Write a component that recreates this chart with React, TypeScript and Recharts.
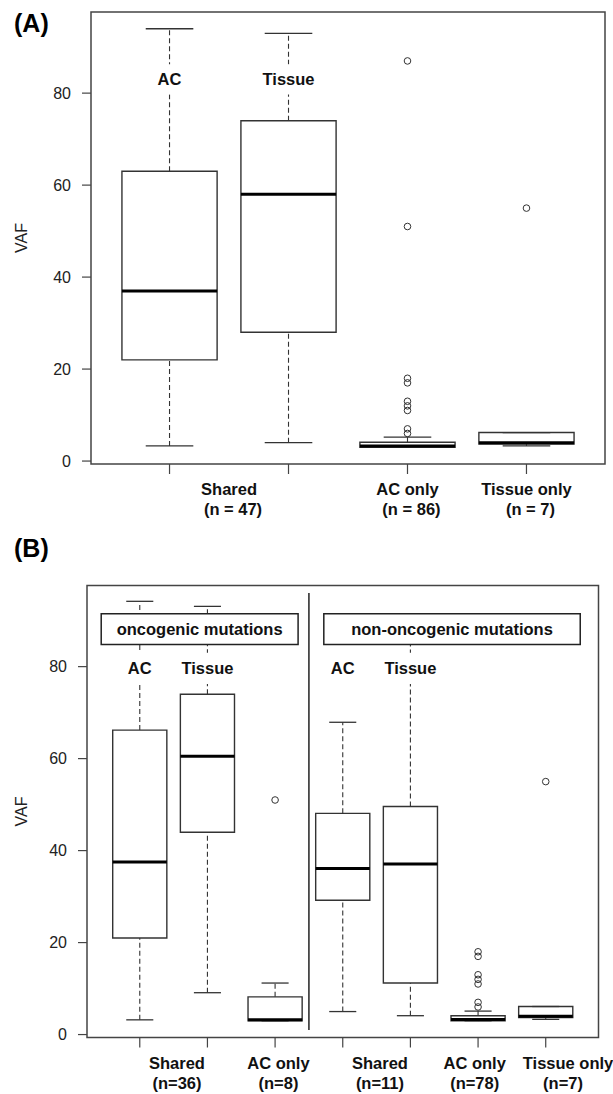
import React from 'react';
import { ComposedChart, XAxis, YAxis, Scatter, ReferenceArea, ReferenceLine } from 'recharts';

// shared y scale (R default: data range + 4%)
const yDomain: [number, number] = [-0.64, 97.64];
const yTicks = [0, 20, 40, 60, 80];

// panel A: Shared AC, Shared Tissue, AC only, Tissue only
const posA = [1, 2, 3, 4];
const minA = [3.3, 4, 3, 3.3];
const q1A = [22, 28, 3, 3.7];
const medA = [37, 58, 3.3, 4];
const q3A = [63, 74, 4.1, 6.2];
const maxA = [94, 93, 5.2, 6.2];
const acOnlyOutA = [87, 51, 18, 17, 13, 12, 11, 7, 6];
const tissueOnlyOutA = [55];
const groupPosA = [1.5, 3, 4];
const groupNameA = ['Shared', 'AC only', 'Tissue only'];
const groupNA = ['(n = 47)', '(n = 86)', '(n = 7)'];
const nShiftA = [4, 4, 4];
const sourcePosA = [1, 2];

// panel B: oncogenic (1-3) | non-oncogenic (4-7)
const posB = [1, 2, 3, 4, 5, 6, 7];
const minB = [3.2, 9.1, 3, 5, 4.1, 3, 3.3];
const q1B = [21, 44, 3, 29.2, 11.2, 3, 3.7];
const medB = [37.5, 60.5, 3.2, 36.1, 37.1, 3.3, 4];
const q3B = [66.2, 74, 8.2, 48.1, 49.6, 4.1, 6.1];
const maxB = [94.2, 93.1, 11.2, 67.9, 89, 5.1, 6.1];
const acOnlyOncOutB = [51];
const acOnlyNonOutB = [18, 17, 13, 12, 11, 7, 6];
const tissueOnlyOutB = [55];
const groupPosB = [1.55, 3.05, 4.55, 5.95, 7.33];
const groupNameB = ['Shared', 'AC only', 'Shared', 'AC only', 'Tissue only'];
const groupNB = ['(n=36)', '(n=8)', '(n=11)', '(n=78)', '(n=7)'];
const nShiftB = [0, 0, 0, 0, -5];
const sourcePosB = [1, 2, 4, 5];
const sourceNames = ['AC', 'Tissue'];
const legendNames = ['oncogenic mutations', 'non-oncogenic mutations'];
const legendFrom = [0.43, 3.72];
const legendTo = [3.34, 7.51];

const outliersA = [
  ...acOnlyOutA.map((y) => ({ x: 3, y })),
  ...tissueOnlyOutA.map((y) => ({ x: 4, y })),
];
const outliersB = [
  ...acOnlyOncOutB.map((y) => ({ x: 3, y })),
  ...acOnlyNonOutB.map((y) => ({ x: 6, y })),
  ...tissueOnlyOutB.map((y) => ({ x: 7, y })),
];
// anchors so the label axis has something attached to it
const anchorsA = groupPosA.map((x) => ({ x, y: 0 }));
const anchorsB = groupPosB.map((x) => ({ x, y: 0 }));

const LINE = '#333';
const FONT = '"Liberation Sans", Arial, sans-serif';

function boxes(pos: number[], min: number[], q1: number[], med: number[], q3: number[], max: number[], id: string) {
  const out: React.ReactNode[] = [];
  pos.forEach((p, i) => {
    out.push(
      <ReferenceLine key={`${id}uw${i}`} segment={[{ x: p, y: q3[i] }, { x: p, y: max[i] }]} stroke={LINE} strokeWidth={1.1} strokeDasharray="5 3" />,
      <ReferenceLine key={`${id}lw${i}`} segment={[{ x: p, y: min[i] }, { x: p, y: q1[i] }]} stroke={LINE} strokeWidth={1.1} strokeDasharray="5 3" />,
      <ReferenceLine key={`${id}uc${i}`} segment={[{ x: p - 0.2, y: max[i] }, { x: p + 0.2, y: max[i] }]} stroke={LINE} strokeWidth={1.3} />,
      <ReferenceLine key={`${id}lc${i}`} segment={[{ x: p - 0.2, y: min[i] }, { x: p + 0.2, y: min[i] }]} stroke={LINE} strokeWidth={1.3} />,
      <ReferenceArea key={`${id}bx${i}`} x1={p - 0.4} x2={p + 0.4} y1={q1[i]} y2={q3[i]} fill="#fff" fillOpacity={1} stroke={LINE} strokeWidth={1.4} />,
      <ReferenceLine key={`${id}md${i}`} segment={[{ x: p - 0.4, y: med[i] }, { x: p + 0.4, y: med[i] }]} stroke="#000" strokeWidth={3} />,
    );
  });
  return out;
}

const makeGroupTick = (positions: number[], names: string[], ns: string[], shift: number[]) => (props: any) => {
  const { x, y, payload } = props;
  const i = positions.indexOf(payload.value);
  return (
    <g>
      <text x={x} y={y + 21} textAnchor="middle" fontSize={16.5} fontWeight="bold" fill="#111">{names[i]}</text>
      <text x={x + (shift[i] || 0)} y={y + 41} textAnchor="middle" fontSize={16.5} fontWeight="bold" fill="#111">{ns[i]}</text>
    </g>
  );
};

const vafLabel = (props: any) => {
  const vb = props.viewBox;
  const cx = vb.x + 21;
  const cy = vb.y + vb.height / 2;
  return (
    <text x={cx} y={cy} transform={`rotate(-90, ${cx}, ${cy})`} textAnchor="middle" dominantBaseline="central" fontSize={16} fill="#222">VAF</text>
  );
};

const outlierDot = (props: any) => (
  <circle cx={props.cx} cy={props.cy} r={3.3} fill="none" stroke={LINE} strokeWidth={1} />
);
const noDot = () => <g />;

const srcLabel = (text: string) => ({ value: text, position: 'center' as const, fontSize: 16.5, fontWeight: 'bold', fill: '#111' });

export default function App() {
  const xDomA: [number, number] = [0.34, 4.66];
  const xDomB: [number, number] = [0.22, 7.78];
  return (
    <div style={{ position: 'absolute', left: 0, top: 0, width: 613, height: 1094, background: '#fff', fontFamily: FONT, overflow: 'hidden' }}>
      <div style={{ position: 'absolute', left: 14, top: 11, fontSize: 25, fontWeight: 'bold', lineHeight: '25px' }}>(A)</div>
      <div style={{ position: 'absolute', left: 14, top: 536, fontSize: 25, fontWeight: 'bold', lineHeight: '25px' }}>(B)</div>

      <div style={{ position: 'absolute', left: 0, top: 0 }}>
        <ComposedChart width={613} height={530} margin={{ top: 12, right: 8, bottom: 6, left: 0 }}>
          <XAxis xAxisId={0} dataKey="x" type="number" domain={xDomA} allowDataOverflow ticks={posA} interval={0}
            height={10} axisLine={false} tickSize={10} tickLine={{ stroke: '#444', strokeWidth: 1.2 }} tick={() => <g />} />
          <XAxis xAxisId="lab" dataKey="x" type="number" domain={xDomA} allowDataOverflow ticks={groupPosA} interval={0}
            height={50} axisLine={false} tickLine={false} tickSize={0} tickMargin={0}
            tick={makeGroupTick(groupPosA, groupNameA, groupNA, nShiftA)} />
          <YAxis dataKey="y" type="number" domain={yDomain} allowDataOverflow ticks={yTicks} interval={0} width={91}
            axisLine={false} tickSize={9} tickMargin={11} tickLine={{ stroke: '#444', strokeWidth: 1.2 }}
            tick={{ fontSize: 16, fill: '#222' }} label={{ content: vafLabel }} />
          <ReferenceArea x1={xDomA[0]} x2={xDomA[1]} y1={yDomain[0]} y2={yDomain[1]} fill="none" stroke="#444" strokeWidth={1.5} />
          {boxes(posA, minA, q1A, medA, q3A, maxA, 'a')}
          <Scatter data={outliersA} dataKey="y" shape={outlierDot} isAnimationActive={false} />
          <Scatter data={anchorsA} xAxisId="lab" dataKey="y" shape={noDot} isAnimationActive={false} />
          {sourcePosA.map((p, i) => (
            <ReferenceArea key={`sa${i}`} x1={p - 0.25} x2={p + 0.25} y1={79.7} y2={86.3} fill="#fff" fillOpacity={1} stroke="none" zIndex={1500} label={srcLabel(sourceNames[i])} />
          ))}
        </ComposedChart>
      </div>

      <div style={{ position: 'absolute', left: 0, top: 540 }}>
        <ComposedChart width={613} height={554} margin={{ top: 45.5, right: 14.5, bottom: 0, left: 0 }}>
          <XAxis xAxisId={0} dataKey="x" type="number" domain={xDomB} allowDataOverflow ticks={posB} interval={0}
            height={10} axisLine={false} tickSize={10} tickLine={{ stroke: '#444', strokeWidth: 1.2 }} tick={() => <g />} />
          <XAxis xAxisId="lab" dataKey="x" type="number" domain={xDomB} allowDataOverflow ticks={groupPosB} interval={0}
            height={46.5} axisLine={false} tickLine={false} tickSize={0} tickMargin={0}
            tick={makeGroupTick(groupPosB, groupNameB, groupNB, nShiftB)} />
          <YAxis dataKey="y" type="number" domain={yDomain} allowDataOverflow ticks={yTicks} interval={0} width={87}
            axisLine={false} tickSize={9} tickMargin={11} tickLine={{ stroke: '#444', strokeWidth: 1.2 }}
            tick={{ fontSize: 16, fill: '#222' }} label={{ content: vafLabel }} />
          <ReferenceArea x1={xDomB[0]} x2={xDomB[1]} y1={yDomain[0]} y2={yDomain[1]} fill="none" stroke="#444" strokeWidth={1.5} />
          {boxes(posB, minB, q1B, medB, q3B, maxB, 'b')}
          <Scatter data={outliersB} dataKey="y" shape={outlierDot} isAnimationActive={false} />
          <Scatter data={anchorsB} xAxisId="lab" dataKey="y" shape={noDot} isAnimationActive={false} />
          <ReferenceLine segment={[{ x: 3.5, y: 1 }, { x: 3.5, y: 96 }]} stroke="#222" strokeWidth={1.5} />
          {sourcePosB.map((p, i) => (
            <ReferenceArea key={`sb${i}`} x1={p - 0.35} x2={p + 0.35} y1={76.2} y2={83} fill="#fff" fillOpacity={1} stroke="none" zIndex={1500} label={srcLabel(sourceNames[i % 2])} />
          ))}
          {legendNames.map((t, i) => (
            <ReferenceArea key={`lg${i}`} x1={legendFrom[i]} x2={legendTo[i]} y1={84.8} y2={91.5} fill="#fff" fillOpacity={1} stroke="#222" strokeWidth={1.5} zIndex={1500}
              label={{ value: t, position: 'center', fontSize: 16.5, fontWeight: 'bold', fill: '#111' }} />
          ))}
        </ComposedChart>
      </div>
    </div>
  );
}
